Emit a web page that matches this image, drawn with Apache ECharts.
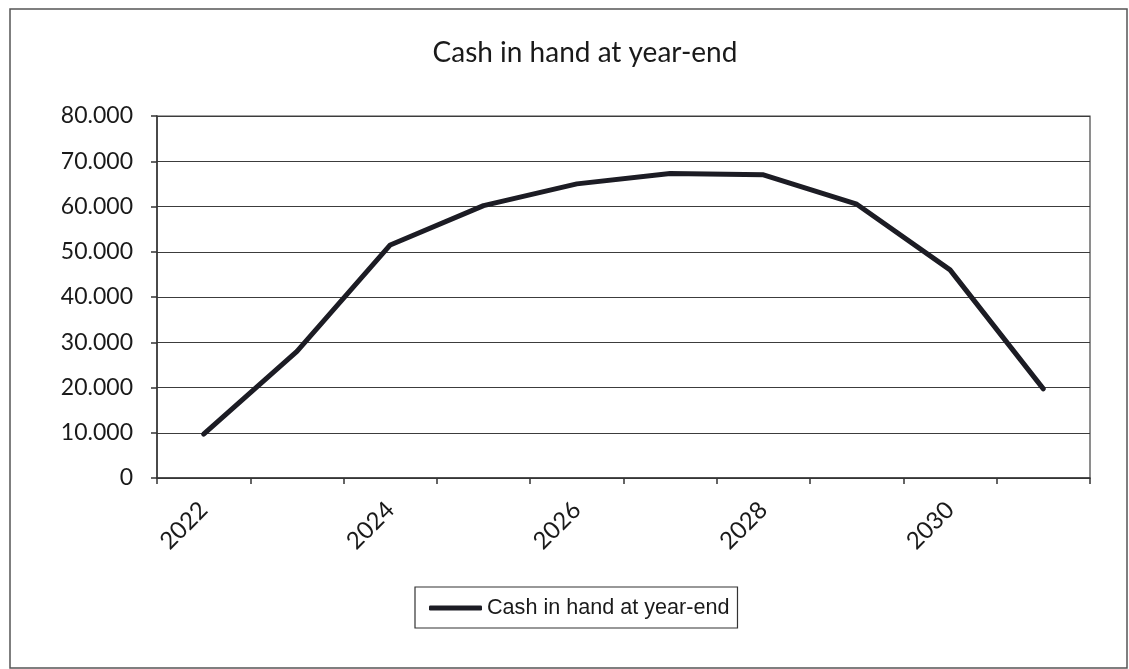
<!DOCTYPE html>
<html>
<head>
<meta charset="utf-8">
<script src="https://cdn.jsdelivr.net/npm/echarts@6/dist/echarts.min.js"></script>
<style>
  html, body { margin: 0; padding: 0; background: #fff; }
  #chart { width: 1129px; height: 669px; }
</style>
</head>
<body>
<div id="chart"></div>
<script>
// Year-end cash balances
const years = ['2022', '2023', '2024', '2025', '2026', '2027', '2028', '2029', '2030', '2031'];
const cashInHand = [9700, 28000, 51500, 60200, 65000, 67300, 67000, 60500, 46000, 19700];
const seriesName = 'Cash in hand at year-end';
const chartTitle = 'Cash in hand at year-end';

// Thousands separated with a dot: 80000 -> "80.000"
function dotThousands(v) {
  return String(Math.round(v)).replace(/\B(?=(\d{3})+(?!\d))/g, '.');
}

const chart = echarts.init(document.getElementById('chart'));
chart.setOption({
  backgroundColor: '#ffffff',
  animation: false,
  title: {
    text: chartTitle,
    left: 580,
    textAlign: 'center',
    top: 34,
    textStyle: { fontFamily: 'Lato', fontWeight: 'normal', fontSize: 28, color: '#1a1a1a' }
  },
  graphic: [{
    type: 'rect',
    shape: { x: 10, y: 9, width: 1117, height: 659 },
    style: { fill: 'none', stroke: '#555', lineWidth: 1.5 },
    silent: true
  }],
  legend: {
    data: [seriesName],
    left: 415,
    top: 587,
    orient: 'horizontal',
    padding: [10, 8, 9, 14],
    borderColor: '#333',
    borderWidth: 1.2,
    itemWidth: 53,
    itemHeight: 5,
    icon: 'roundRect',
    textStyle: { fontFamily: 'Liberation Sans', fontSize: 21.6, color: '#1a1a1a' }
  },
  grid: {
    left: 157, right: 39, top: 116, bottom: 191,
    show: true,
    borderColor: '#444',
    borderWidth: 1.2,
    containLabel: false
  },
  xAxis: {
    type: 'category',
    data: years,
    boundaryGap: true,
    axisLine: { show: true, lineStyle: { color: '#333', width: 1.5 } },
    axisTick: { show: true, interval: 0, length: 6, lineStyle: { color: '#333', width: 1.5 } },
    axisLabel: {
      interval: 1,
      rotate: 45,
      margin: 28,
      fontFamily: 'Lato',
      fontSize: 24,
      color: '#1a1a1a'
    },
    splitLine: { show: false }
  },
  yAxis: {
    type: 'value',
    min: 0,
    max: 80000,
    interval: 10000,
    axisLine: { show: true, lineStyle: { color: '#333', width: 1.5 } },
    axisTick: { show: true, length: 6, lineStyle: { color: '#333', width: 1.5 } },
    axisLabel: {
      margin: 24,
      fontFamily: 'Lato',
      fontSize: 23,
      color: '#1a1a1a',
      formatter: dotThousands
    },
    splitLine: { show: true, lineStyle: { color: '#3c3c3c', width: 1.2 } }
  },
  series: [{
    name: seriesName,
    type: 'line',
    data: cashInHand,
    symbol: 'none',
    showSymbol: false,
    lineStyle: { color: '#1c1c24', width: 5, join: 'round', cap: 'round' },
    itemStyle: { color: '#1c1c24' }
  }]
});
</script>
</body>
</html>
